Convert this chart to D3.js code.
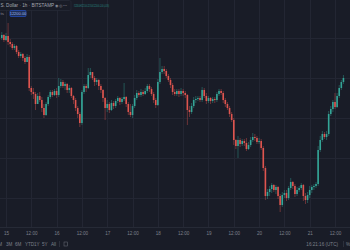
<!DOCTYPE html>
<html>
<head>
  <meta charset="UTF-8">
  <style>
    body { margin: 0; background: #191c27; overflow: hidden; }
    svg { display: block; }
    text { font-family: "Liberation Sans", Arial, sans-serif; }
  </style>
</head>
<body>
  <svg width="350" height="250"></svg>
  <script src="https://cdn.jsdelivr.net/npm/d3@7"></script>
  <script>
    // hourly BTC/USD candles, first bar 14 Aug 22:00 UTC
    const firstOpen = 12400;
    const closes = [
      12415,12390,12410,12380,12370,12350,12360,12330,12310,12320,
      12300,12280,12305,12150,12130,12120,12070,12110,12090,12050,
      12015,12070,12105,12130,12115,12135,12115,12160,12180,12160,
      12170,12140,12150,12110,12090,12050,12020,11975,12130,12160,
      12150,12215,12230,12200,12180,12190,12160,12140,12100,12050,
      12070,12040,12075,12060,12085,12100,12080,12095,12105,12070,
      12030,12015,12060,12100,12125,12115,12130,12120,12135,12160,
      12145,12120,12090,12065,12180,12230,12245,12235,12210,12190,
      12165,12130,12120,12135,12120,12135,12125,12115,12040,12030,
      12060,12090,12095,12100,12090,12140,12110,12085,12100,12085,
      12095,12090,12120,12135,12125,12090,12070,12050,12020,11990,
      11890,11860,11890,11870,11885,11875,11845,11865,11890,11905,
      11900,11880,11885,11850,11750,11610,11630,11645,11665,11640,
      11655,11610,11565,11615,11625,11600,11650,11680,11660,11620,
      11640,11650,11665,11610,11590,11615,11640,11655,11660,11670,
      11840,11890,11920,11905,11920,12020,12045,12080,12055,12110,
      12150,12180,12200
    ];
    const highs = [
      12430,12420,12425,12475,12395,12380,12370,12365,12340,12330,
      12325,12310,12320,12315,12160,12150,12130,12125,12130,12105,
      12070,12080,12115,12140,12140,12145,12150,12200,12195,12190,
      12180,12175,12165,12155,12115,12100,12060,12030,12140,12170,
      12170,12250,12250,12225,12210,12200,12195,12170,12145,12105,
      12090,12080,12090,12085,12095,12110,12105,12105,12175,12110,
      12080,12070,12070,12115,12140,12135,12145,12140,12150,12170,
      12170,12155,12130,12100,12195,12300,12260,12260,12245,12220,
      12200,12175,12145,12145,12145,12150,12145,12135,12120,12060,
      12075,12105,12110,12110,12110,12155,12150,12125,12110,12105,
      12105,12105,12130,12145,12145,12135,12100,12080,12060,12030,
      12000,11895,11910,11900,11895,11895,11900,11880,11905,11925,
      11920,11910,11900,11895,11860,11760,11645,11660,11675,11670,
      11665,11660,11620,11630,11640,11640,11660,11700,11685,11670,
      11655,11660,11675,11670,11625,11630,11660,11665,11670,11680,
      11860,11910,11935,11930,11935,12035,12060,12090,12125,12125,
      12165,12190,12215
    ];
    const lows = [
      12390,12380,12385,12365,12355,12340,12340,12320,12300,12300,
      12285,12270,12280,12135,12115,12095,12040,12070,12080,12030,
      12000,12010,12060,12095,12105,12110,12100,12105,12150,12150,
      12140,12125,12125,12100,12070,12035,12000,11955,11965,12120,
      12130,12145,12200,12190,12160,12165,12140,12125,12080,11990,
      12030,12025,12035,12045,12050,12075,12065,12070,12085,12055,
      12015,12005,12000,12050,12090,12105,12105,12110,12115,12125,
      12130,12110,12075,12050,12060,12170,12220,12220,12200,12180,
      12150,12115,12110,12110,12105,12110,12110,12100,11965,12005,
      12020,12050,12075,12085,12080,12080,12100,12070,12075,12070,
      12075,12075,12080,12110,12115,12075,12055,12040,12005,11980,
      11865,11845,11800,11855,11860,11860,11835,11840,11855,11880,
      11885,11870,11870,11840,11735,11590,11595,11610,11625,11630,
      11620,11595,11530,11555,11600,11585,11590,11640,11645,11605,
      11610,11630,11640,11585,11570,11575,11600,11625,11640,11650,
      11660,11830,11880,11895,11890,11910,12010,12030,12045,12050,
      12100,12140,12170
    ];
    const priceGrid = [12400, 12200, 12000, 11800, 11600];
    const rangeButtons = ['1M', '3M', '6M', 'YTD', '1Y', '5Y', 'All'];

    const HOUR = 3600 * 1000;
    const start = Date.UTC(2020, 7, 14, 22);
    const candles = closes.map((c, i) => {
      const o = i === 0 ? firstOpen : closes[i - 1];
      return {
        t: new Date(start + i * HOUR),
        o: o, c: c,
        h: Math.max(highs[i], o, c),
        l: Math.min(lows[i], o, c)
      };
    });

    const svg = d3.select('svg');
    const x = d3.scaleUtc()
      .domain([new Date(Date.UTC(2020, 7, 15, 0)), new Date(Date.UTC(2020, 7, 21, 12))])
      .range([6, 335]);
    const y = d3.scaleLinear().domain([12400, 11600]).range([38, 198]);

    // grid
    const tickDates = d3.utcHour.every(12).range(new Date(Date.UTC(2020, 7, 15, 0)), new Date(Date.UTC(2020, 7, 21, 13)));
    svg.append('g').selectAll('line').data(tickDates).join('line')
      .attr('x1', d => Math.round(x(d)) + 0.5).attr('x2', d => Math.round(x(d)) + 0.5)
      .attr('y1', 0).attr('y2', 227)
      .attr('stroke', '#232633').attr('stroke-width', 1);
    svg.append('g').selectAll('line').data(priceGrid).join('line')
      .attr('x1', 0).attr('x2', 350)
      .attr('y1', d => Math.round(y(d)) + 0.5).attr('y2', d => Math.round(y(d)) + 0.5)
      .attr('stroke', '#232633').attr('stroke-width', 1);

    // candles
    const up = '#34a597', down = '#df554f';
    const g = svg.append('g');
    g.selectAll('line.wick').data(candles).join('line')
      .attr('class', 'wick')
      .attr('x1', d => x(d.t)).attr('x2', d => x(d.t))
      .attr('y1', d => y(d.h)).attr('y2', d => y(d.l))
      .attr('stroke', d => d.c >= d.o ? up : down)
      .attr('stroke-width', 0.6).attr('stroke-opacity', 0.7);
    g.selectAll('rect').data(candles).join('rect')
      .attr('x', d => x(d.t) - 0.8)
      .attr('width', 1.6)
      .attr('y', d => y(Math.max(d.o, d.c)))
      .attr('height', d => Math.max(0.6, Math.abs(y(d.o) - y(d.c))))
      .attr('fill', d => d.c >= d.o ? up : down);

    // time axis
    svg.append('line').attr('x1', 0).attr('x2', 350).attr('y1', 227.5).attr('y2', 227.5)
      .attr('stroke', '#262a36');
    const axis = d3.axisBottom(x).tickValues(tickDates).tickSize(0)
      .tickFormat(d => d.getUTCHours() === 0 ? d3.utcFormat('%-d')(d) : '12:00');
    svg.append('g').attr('transform', 'translate(0,229)').call(axis)
      .call(s => s.select('.domain').remove())
      .selectAll('text').attr('fill', '#7d808b').attr('font-size', 4.6)
      .attr('font-family', '"Liberation Sans", Arial, sans-serif');

    // bottom toolbar
    const btnX = [2, 6, 15, 25, 34, 42, 51];
    svg.append('g').selectAll('text').data(rangeButtons).join('text')
      .attr('x', (d, i) => btnX[i]).attr('y', 246)
      .attr('fill', '#7d808b').attr('font-size', 4.6)
      .attr('text-anchor', (d, i) => i === 0 ? 'end' : 'start')
      .text(d => d);
    svg.append('rect').attr('x', 64).attr('y', 242).attr('width', 3.5).attr('height', 4)
      .attr('fill', 'none').attr('stroke', '#6f727d').attr('stroke-width', 0.5);
    svg.append('line').attr('x1', 59.5).attr('x2', 59.5).attr('y1', 241).attr('y2', 247)
      .attr('stroke', '#2c303c');
    svg.append('text').attr('x', 338).attr('y', 246).attr('text-anchor', 'end')
      .attr('fill', '#7d808b').attr('font-size', 4.6).text('16:21:16 (UTC)');
    svg.append('line').attr('x1', 343.5).attr('x2', 343.5).attr('y1', 241).attr('y2', 247)
      .attr('stroke', '#2c303c');
    svg.append('text').attr('x', 346).attr('y', 246)
      .attr('fill', '#7d808b').attr('font-size', 4.6).text('%');

    // legend header
    svg.append('rect').attr('x', -2).attr('y', 0.5).attr('width', 73).attr('height', 10)
      .attr('rx', 1.5).attr('fill', '#191c27').attr('stroke', '#2a2e3a').attr('stroke-width', 0.6);
    svg.append('text').attr('x', 0.5).attr('y', 7.3)
      .attr('fill', '#a3a6af').attr('font-size', 4.6)
      .text('S. Dollar · 1h · BITSTAMP');
    svg.append('text').attr('x', 55).attr('y', 7.3)
      .attr('fill', '#8a8d97').attr('font-size', 4.4).text('◉ ◎ ⋯');
    const last = candles[candles.length - 1];
    svg.append('text').attr('x', 74).attr('y', 7)
      .attr('fill', '#2e9f93').attr('font-size', 3)
      .attr('textLength', 35).attr('lengthAdjust', 'spacingAndGlyphs')
      .text(`O${last.o.toFixed(2)} H${last.h.toFixed(2)} L${last.l.toFixed(2)} C${last.c.toFixed(2)} +${(last.c - last.o).toFixed(2)} (+${((last.c - last.o) / last.o * 100).toFixed(2)}%)`);
    svg.append('text').attr('x', 0.5).attr('y', 15)
      .attr('fill', '#8a8d97').attr('font-size', 4.4).text('ts');
    svg.append('rect').attr('x', 10).attr('y', 10.5).attr('width', 16).attr('height', 6)
      .attr('rx', 1).attr('fill', '#1f2f55').attr('stroke', '#2962ff').attr('stroke-width', 0.5);
    svg.append('text').attr('x', 18).attr('y', 15).attr('text-anchor', 'middle')
      .attr('fill', '#9fb4e6').attr('font-size', 4).text(last.c.toFixed(2));
  </script>
</body>
</html>
